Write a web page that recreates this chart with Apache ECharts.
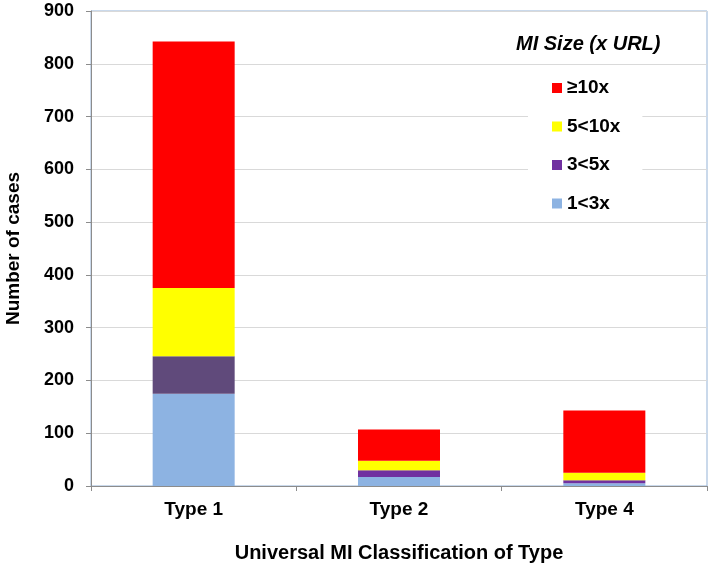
<!DOCTYPE html>
<html>
<head>
<meta charset="utf-8">
<script src="https://cdn.jsdelivr.net/npm/echarts@6/dist/echarts.min.js"></script>
<style>
html,body{margin:0;padding:0;background:#fff;}
#chart{width:709px;height:566px;}
</style>
</head>
<body>
<div id="chart"></div>
<script>
const categories = ['Type 1', 'Type 2', 'Type 4'];
const size1to3 = [175, 17, 5];
const size3to5 = [71, 13, 6];
const size5to10 = [129, 18, 14];
const size10plus = [467, 59, 118];
const yTicks = [0, 100, 200, 300, 400, 500, 600, 700, 800, 900];

const FONT = 'Liberation Sans';
const chart = echarts.init(document.getElementById('chart'));

const purpleType1 = '#604a7b';

chart.setOption({
  animation: false,
  backgroundColor: '#fff',
  textStyle: { fontFamily: FONT },
  title: {
    text: 'MI Size (x URL)',
    left: 516,
    top: 34,
    padding: 0,
    textStyle: { fontFamily: FONT, fontSize: 20, fontWeight: 'bold', fontStyle: 'italic', color: '#000' }
  },
  legend: {
    orient: 'vertical',
    left: 528,
    top: 71,
    padding: [6, 22, 6, 24],
    backgroundColor: '#fff',
    itemWidth: 10,
    itemHeight: 10,
    itemGap: 16.5,
    icon: 'rect',
    selectedMode: false,
    data: ['≥10x', '5<10x', '3<5x', '1<3x'],
    textStyle: { fontFamily: FONT, fontSize: 19, fontWeight: 'bold', color: '#000', lineHeight: 22 }
  },
  grid: {
    left: 91, right: 2, top: 11, bottom: 80,
    outerBoundsMode: 'none',
    containLabel: false,
    show: true, borderColor: '#95b3d7', borderWidth: 1, backgroundColor: 'transparent'
  },
  xAxis: {
    type: 'category',
    data: categories,
    name: 'Universal MI Classification of Type',
    nameLocation: 'middle',
    nameGap: 57,
    nameTextStyle: { fontFamily: FONT, fontSize: 20, fontWeight: 'bold', color: '#000' },
    axisLine: { lineStyle: { color: '#8c8c8c', width: 1 } },
    axisTick: { show: true, length: 5, lineStyle: { color: '#8c8c8c' } },
    axisLabel: { fontFamily: FONT, fontSize: 19, fontWeight: 'bold', color: '#000', margin: 14 }
  },
  yAxis: {
    type: 'value',
    min: 0, max: 900, interval: 100,
    name: 'Number of cases',
    nameLocation: 'middle',
    nameGap: 68,
    nameTextStyle: { fontFamily: FONT, fontSize: 19, fontWeight: 'bold', color: '#000' },
    axisLine: { show: true, lineStyle: { color: '#8c8c8c', width: 1 } },
    axisTick: { show: true, length: 5, lineStyle: { color: '#8c8c8c' } },
    splitLine: { lineStyle: { color: '#d9d9d9', width: 1 } },
    axisLabel: {
      fontFamily: FONT, fontSize: 18, fontWeight: 'bold', color: '#000', margin: 17,
      formatter: v => yTicks.includes(v) ? String(v) : ''
    }
  },
  series: [
    { name: '1<3x', type: 'bar', stack: 's', barWidth: 82, data: size1to3, itemStyle: { color: '#8db3e2' } },
    { name: '3<5x', type: 'bar', stack: 's', barWidth: 82,
      data: size3to5.map((v, i) => i === 0 ? { value: v, itemStyle: { color: purpleType1 } } : v),
      itemStyle: { color: '#7030a0' } },
    { name: '5<10x', type: 'bar', stack: 's', barWidth: 82, data: size5to10, itemStyle: { color: '#ffff00' } },
    { name: '≥10x', type: 'bar', stack: 's', barWidth: 82, data: size10plus, itemStyle: { color: '#ff0000' } }
  ]
});
</script>
</body>
</html>
